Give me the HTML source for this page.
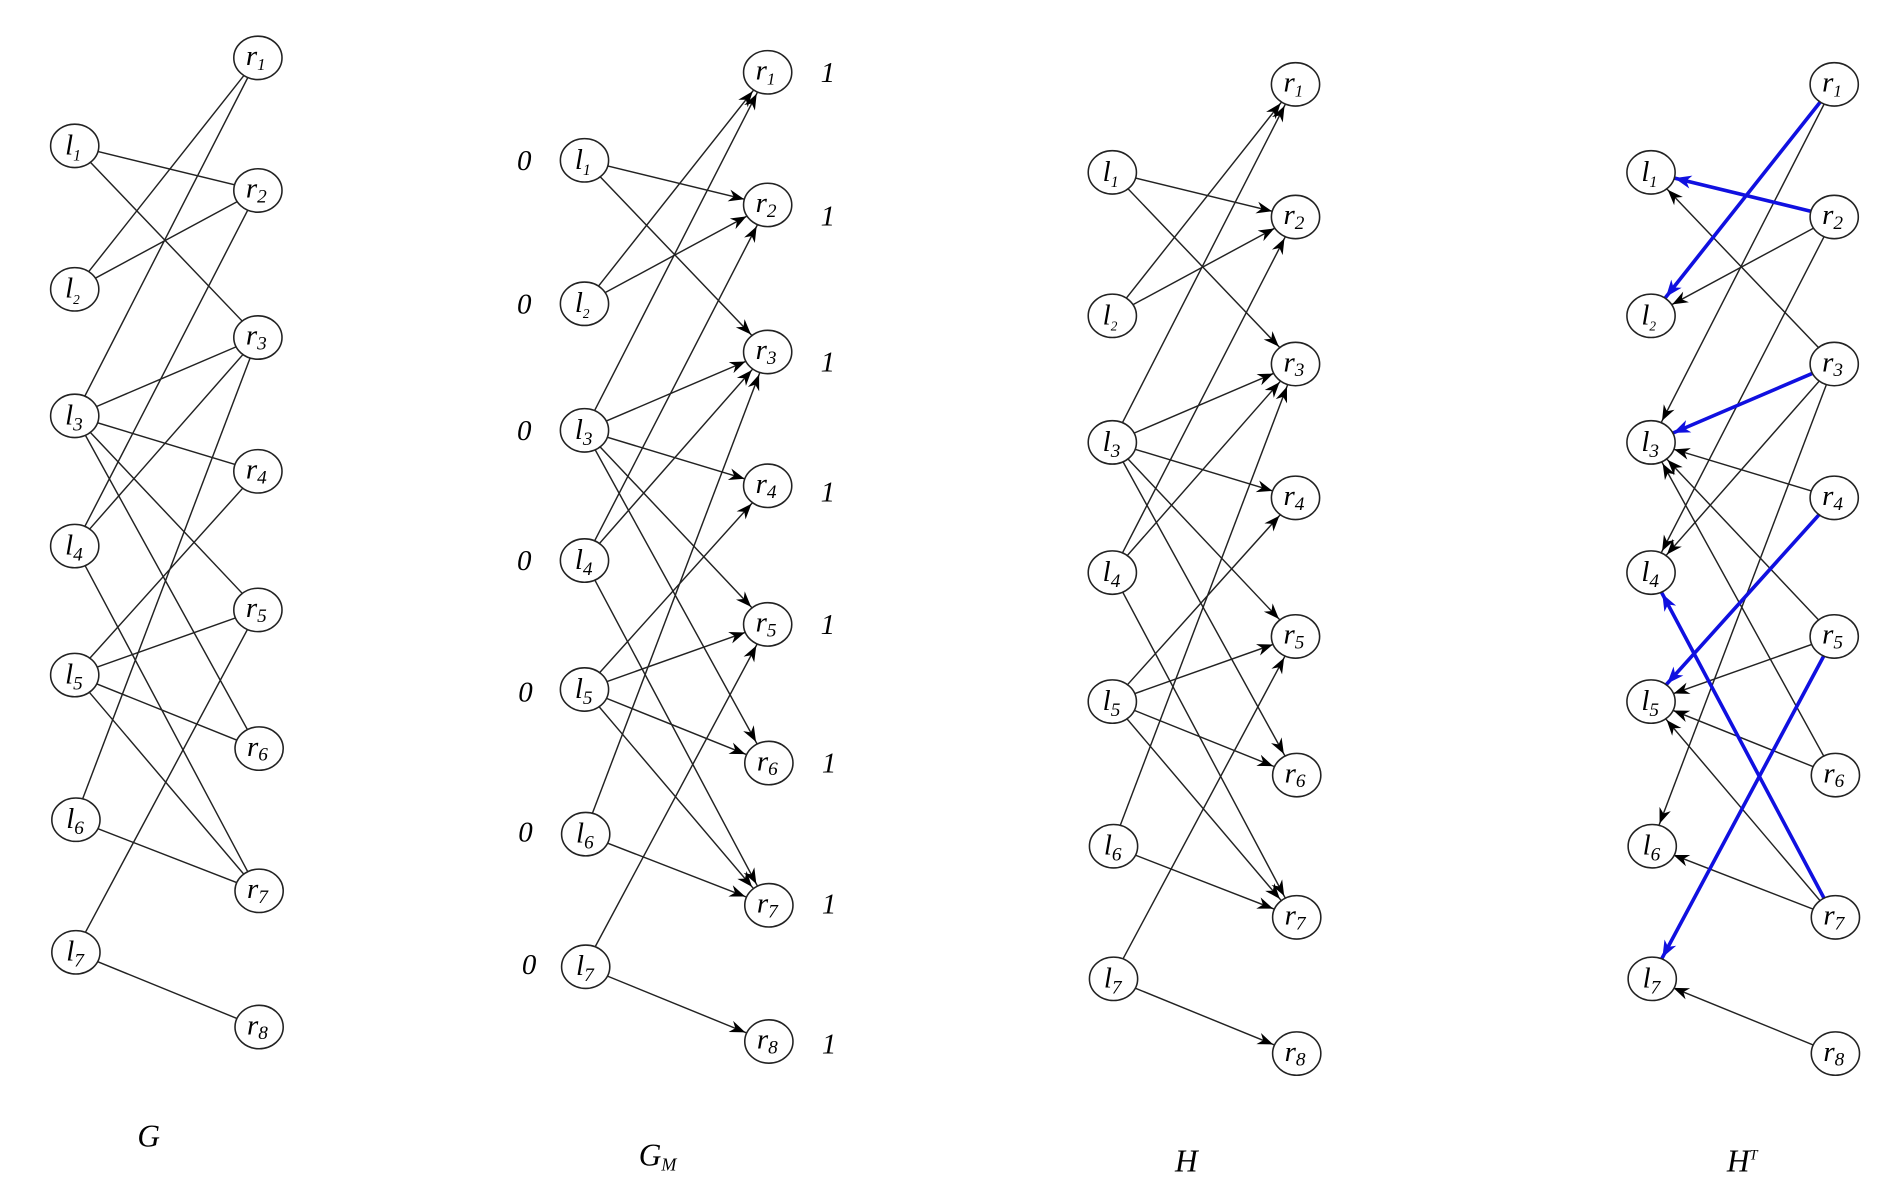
<!DOCTYPE html>
<html><head><meta charset="utf-8"><style>
html,body{margin:0;padding:0;background:#fff;}
svg{display:block;}
text{font-family:"Liberation Serif",serif;font-style:italic;fill:#000;}
</style></head><body>
<svg width="1880" height="1197" viewBox="0 0 1560 993" preserveAspectRatio="none" xmlns="http://www.w3.org/2000/svg">
<defs>
<marker id="a" markerUnits="userSpaceOnUse" markerWidth="30" markerHeight="30" refX="20" refY="0" orient="auto" overflow="visible">
<path d="M0,0 L-13,-5 L-9,0 L-13,5 Z" fill="#000"/>
</marker>
<marker id="b" markerUnits="userSpaceOnUse" markerWidth="30" markerHeight="30" refX="20" refY="0" orient="auto" overflow="visible">
<path d="M0,0 L-14,-5.5 L-10,0 L-14,5.5 Z" fill="#1010e0"/>
</marker>
<g id="nodes" fill="#fff" stroke="#222" stroke-width="1.3">
<ellipse cx="62" cy="121" rx="20" ry="18"/><ellipse cx="62" cy="240" rx="20" ry="18"/>
<ellipse cx="62" cy="345" rx="20" ry="18"/><ellipse cx="62" cy="453" rx="20" ry="18"/>
<ellipse cx="62" cy="560" rx="20" ry="18"/><ellipse cx="63" cy="680" rx="20" ry="18"/>
<ellipse cx="63" cy="790" rx="20" ry="18"/>
<ellipse cx="214" cy="48" rx="20" ry="18"/><ellipse cx="214" cy="158" rx="20" ry="18"/>
<ellipse cx="214" cy="280" rx="20" ry="18"/><ellipse cx="214" cy="391" rx="20" ry="18"/>
<ellipse cx="214" cy="506" rx="20" ry="18"/><ellipse cx="215" cy="621" rx="20" ry="18"/>
<ellipse cx="215" cy="739" rx="20" ry="18"/><ellipse cx="215" cy="852" rx="20" ry="18"/>
</g>
</defs>

<!-- G -->
<g stroke="#222" stroke-width="1.2" fill="none">
<line x1="62" y1="121" x2="214" y2="158"/><line x1="62" y1="121" x2="214" y2="280"/>
<line x1="62" y1="240" x2="214" y2="48"/><line x1="62" y1="240" x2="214" y2="158"/>
<line x1="62" y1="345" x2="214" y2="48"/><line x1="62" y1="345" x2="214" y2="280"/>
<line x1="62" y1="345" x2="214" y2="391"/><line x1="62" y1="345" x2="214" y2="506"/>
<line x1="62" y1="345" x2="214" y2="621"/>
<line x1="62" y1="453" x2="214" y2="158"/><line x1="62" y1="453" x2="214" y2="280"/>
<line x1="62" y1="453" x2="214" y2="739"/>
<line x1="62" y1="560" x2="214" y2="391"/><line x1="62" y1="560" x2="214" y2="506"/>
<line x1="62" y1="560" x2="214" y2="621"/><line x1="62" y1="560" x2="214" y2="739"/>
<line x1="62" y1="680" x2="214" y2="280"/><line x1="62" y1="680" x2="214" y2="739"/>
<line x1="62" y1="790" x2="214" y2="506"/><line x1="62" y1="790" x2="214" y2="852"/>
</g>
<use href="#nodes"/>

<!-- G_M -->
<g transform="translate(423,12)">
<g stroke="#222" stroke-width="1.2" fill="none" marker-end="url(#a)">
<line x1="62" y1="121" x2="214" y2="158"/><line x1="62" y1="121" x2="214" y2="280"/>
<line x1="62" y1="240" x2="214" y2="48"/><line x1="62" y1="240" x2="214" y2="158"/>
<line x1="62" y1="345" x2="214" y2="48"/><line x1="62" y1="345" x2="214" y2="280"/>
<line x1="62" y1="345" x2="214" y2="391"/><line x1="62" y1="345" x2="214" y2="506"/>
<line x1="62" y1="345" x2="214" y2="621"/>
<line x1="62" y1="453" x2="214" y2="158"/><line x1="62" y1="453" x2="214" y2="280"/>
<line x1="62" y1="453" x2="214" y2="739"/>
<line x1="62" y1="560" x2="214" y2="391"/><line x1="62" y1="560" x2="214" y2="506"/>
<line x1="62" y1="560" x2="214" y2="621"/><line x1="62" y1="560" x2="214" y2="739"/>
<line x1="62" y1="680" x2="214" y2="280"/><line x1="62" y1="680" x2="214" y2="739"/>
<line x1="62" y1="790" x2="214" y2="506"/><line x1="62" y1="790" x2="214" y2="852"/>
</g>
<use href="#nodes"/>
</g>

<!-- H -->
<g transform="translate(861,22)">
<g stroke="#222" stroke-width="1.2" fill="none" marker-end="url(#a)">
<line x1="62" y1="121" x2="214" y2="158"/><line x1="62" y1="121" x2="214" y2="280"/>
<line x1="62" y1="240" x2="214" y2="48"/><line x1="62" y1="240" x2="214" y2="158"/>
<line x1="62" y1="345" x2="214" y2="48"/><line x1="62" y1="345" x2="214" y2="280"/>
<line x1="62" y1="345" x2="214" y2="391"/><line x1="62" y1="345" x2="214" y2="506"/>
<line x1="62" y1="345" x2="214" y2="621"/>
<line x1="62" y1="453" x2="214" y2="158"/><line x1="62" y1="453" x2="214" y2="280"/>
<line x1="62" y1="453" x2="214" y2="739"/>
<line x1="62" y1="560" x2="214" y2="391"/><line x1="62" y1="560" x2="214" y2="506"/>
<line x1="62" y1="560" x2="214" y2="621"/><line x1="62" y1="560" x2="214" y2="739"/>
<line x1="62" y1="680" x2="214" y2="280"/><line x1="62" y1="680" x2="214" y2="739"/>
<line x1="62" y1="790" x2="214" y2="506"/><line x1="62" y1="790" x2="214" y2="852"/>
</g>
<use href="#nodes"/>
</g>

<!-- H^T -->
<g transform="translate(1308,22)">
<g stroke="#222" stroke-width="1.2" fill="none" marker-end="url(#a)">
<line x2="62" y2="121" x1="214" y1="280"/>
<line x2="62" y2="240" x1="214" y1="158"/>
<line x2="62" y2="345" x1="214" y1="48"/>
<line x2="62" y2="345" x1="214" y1="391"/><line x2="62" y2="345" x1="214" y1="506"/>
<line x2="62" y2="345" x1="214" y1="621"/>
<line x2="62" y2="453" x1="214" y1="158"/><line x2="62" y2="453" x1="214" y1="280"/>
<line x2="62" y2="560" x1="214" y1="506"/>
<line x2="62" y2="560" x1="214" y1="621"/><line x2="62" y2="560" x1="214" y1="739"/>
<line x2="62" y2="680" x1="214" y1="280"/><line x2="62" y2="680" x1="214" y1="739"/>
<line x2="62" y2="790" x1="214" y1="852"/>
</g>
<g stroke="#1010e0" stroke-width="3" fill="none" marker-end="url(#b)">
<line x2="62" y2="240" x1="214" y1="48"/>
<line x2="62" y2="121" x1="214" y1="158"/>
<line x2="62" y2="345" x1="214" y1="280"/>
<line x2="62" y2="560" x1="214" y1="391"/>
<line x2="62" y2="453" x1="214" y1="739"/>
<line x2="62" y2="790" x1="214" y1="506"/>
</g>
<use href="#nodes"/>
</g>

<!-- node labels -->
<g id="lbl" font-size="24">
<text x="54" y="128">l<tspan font-size="13" dy="5">1</tspan></text>
<text x="54" y="247">l<tspan font-size="11" dy="5">2</tspan></text>
<text x="54" y="352">l<tspan font-size="16" dy="5">3</tspan></text>
<text x="54" y="460">l<tspan font-size="16" dy="5">4</tspan></text>
<text x="54" y="567">l<tspan font-size="16" dy="5">5</tspan></text>
<text x="55" y="687">l<tspan font-size="16" dy="5">6</tspan></text>
<text x="55" y="797">l<tspan font-size="16" dy="5">7</tspan></text>
<text x="204" y="54">r<tspan font-size="14" dy="4">1</tspan></text>
<text x="204" y="164">r<tspan font-size="16" dy="4">2</tspan></text>
<text x="204" y="286">r<tspan font-size="16" dy="4">3</tspan></text>
<text x="204" y="397">r<tspan font-size="16" dy="4">4</tspan></text>
<text x="204" y="512">r<tspan font-size="16" dy="4">5</tspan></text>
<text x="205" y="627">r<tspan font-size="16" dy="4">6</tspan></text>
<text x="205" y="745">r<tspan font-size="16" dy="4">7</tspan></text>
<text x="205" y="858">r<tspan font-size="16" dy="4">8</tspan></text>
</g>
<g transform="translate(423,12)" font-size="24">
<text x="54" y="128">l<tspan font-size="13" dy="5">1</tspan></text>
<text x="54" y="247">l<tspan font-size="11" dy="5">2</tspan></text>
<text x="54" y="352">l<tspan font-size="16" dy="5">3</tspan></text>
<text x="54" y="460">l<tspan font-size="16" dy="5">4</tspan></text>
<text x="54" y="567">l<tspan font-size="16" dy="5">5</tspan></text>
<text x="55" y="687">l<tspan font-size="16" dy="5">6</tspan></text>
<text x="55" y="797">l<tspan font-size="16" dy="5">7</tspan></text>
<text x="204" y="54">r<tspan font-size="14" dy="4">1</tspan></text>
<text x="204" y="164">r<tspan font-size="16" dy="4">2</tspan></text>
<text x="204" y="286">r<tspan font-size="16" dy="4">3</tspan></text>
<text x="204" y="397">r<tspan font-size="16" dy="4">4</tspan></text>
<text x="204" y="512">r<tspan font-size="16" dy="4">5</tspan></text>
<text x="205" y="627">r<tspan font-size="16" dy="4">6</tspan></text>
<text x="205" y="745">r<tspan font-size="16" dy="4">7</tspan></text>
<text x="205" y="858">r<tspan font-size="16" dy="4">8</tspan></text>
<text x="6" y="129">0</text><text x="6" y="248">0</text><text x="6" y="353">0</text>
<text x="6" y="461">0</text><text x="7" y="570">0</text><text x="7" y="686">0</text>
<text x="10" y="796">0</text>
<text x="258" y="56">1</text><text x="258" y="175">1</text><text x="258" y="296">1</text>
<text x="258" y="404">1</text><text x="258" y="514">1</text><text x="259" y="629">1</text>
<text x="259" y="746">1</text><text x="259" y="862">1</text>
</g>
<g transform="translate(861,22)" font-size="24">
<text x="54" y="128">l<tspan font-size="13" dy="5">1</tspan></text>
<text x="54" y="247">l<tspan font-size="11" dy="5">2</tspan></text>
<text x="54" y="352">l<tspan font-size="16" dy="5">3</tspan></text>
<text x="54" y="460">l<tspan font-size="16" dy="5">4</tspan></text>
<text x="54" y="567">l<tspan font-size="16" dy="5">5</tspan></text>
<text x="55" y="687">l<tspan font-size="16" dy="5">6</tspan></text>
<text x="55" y="797">l<tspan font-size="16" dy="5">7</tspan></text>
<text x="204" y="54">r<tspan font-size="14" dy="4">1</tspan></text>
<text x="204" y="164">r<tspan font-size="16" dy="4">2</tspan></text>
<text x="204" y="286">r<tspan font-size="16" dy="4">3</tspan></text>
<text x="204" y="397">r<tspan font-size="16" dy="4">4</tspan></text>
<text x="204" y="512">r<tspan font-size="16" dy="4">5</tspan></text>
<text x="205" y="627">r<tspan font-size="16" dy="4">6</tspan></text>
<text x="205" y="745">r<tspan font-size="16" dy="4">7</tspan></text>
<text x="205" y="858">r<tspan font-size="16" dy="4">8</tspan></text>
</g>
<g transform="translate(1308,22)" font-size="24">
<text x="54" y="128">l<tspan font-size="13" dy="5">1</tspan></text>
<text x="54" y="247">l<tspan font-size="11" dy="5">2</tspan></text>
<text x="54" y="352">l<tspan font-size="16" dy="5">3</tspan></text>
<text x="54" y="460">l<tspan font-size="16" dy="5">4</tspan></text>
<text x="54" y="567">l<tspan font-size="16" dy="5">5</tspan></text>
<text x="55" y="687">l<tspan font-size="16" dy="5">6</tspan></text>
<text x="55" y="797">l<tspan font-size="16" dy="5">7</tspan></text>
<text x="204" y="54">r<tspan font-size="14" dy="4">1</tspan></text>
<text x="204" y="164">r<tspan font-size="16" dy="4">2</tspan></text>
<text x="204" y="286">r<tspan font-size="16" dy="4">3</tspan></text>
<text x="204" y="397">r<tspan font-size="16" dy="4">4</tspan></text>
<text x="204" y="512">r<tspan font-size="16" dy="4">5</tspan></text>
<text x="205" y="627">r<tspan font-size="16" dy="4">6</tspan></text>
<text x="205" y="745">r<tspan font-size="16" dy="4">7</tspan></text>
<text x="205" y="858">r<tspan font-size="16" dy="4">8</tspan></text>
</g>

<!-- captions -->
<g font-size="26">
<text x="114" y="951">G</text>
<text x="530" y="967">G<tspan font-size="15" dy="4">M</tspan></text>
<text x="975" y="972">H</text>
<text x="1433" y="972">H<tspan font-size="12" dy="-10">T</tspan></text>
</g>
</svg>
</body></html>
